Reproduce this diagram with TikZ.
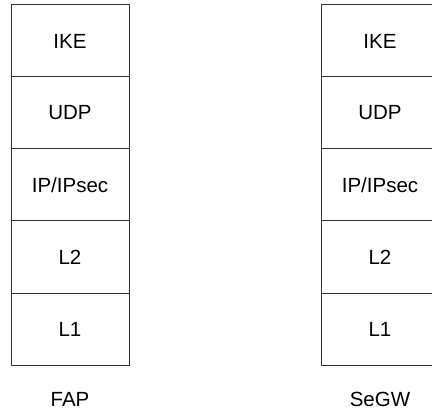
\documentclass[tikz,border=0pt]{standalone}
\usepackage{fontspec}
\setmainfont{Liberation Sans}
\usetikzlibrary{positioning}

\tikzset{
  layer/.style={draw=black!80, line width=1pt, rectangle, minimum width=118pt,
    minimum height=72pt, inner sep=0pt, outer sep=0pt,
    font=\fontsize{20.5}{24}\selectfont},
  stacklabel/.style={font=\fontsize{20.5}{24}\selectfont}
}

\begin{document}
\begin{tikzpicture}[x=1pt, y=-1pt]
    \clip (0,0) rectangle (432,412);
    % FAP protocol stack
    \node[layer] (fike) at (70,41) {IKE};
    \node[layer, below=0pt of fike] (fudp) {UDP};
    \node[layer, below=0pt of fudp] (fip) {IP/IPsec};
    \node[layer, below=0pt of fip] (fltwo) {L2};
    \node[layer, below=0pt of fltwo] (flone) {L1};
    \node[stacklabel] (fap) at (70,399) {FAP};
    % SeGW protocol stack
    \node[layer] (sike) at (380,41) {IKE};
    \node[layer, below=0pt of sike] (sudp) {UDP};
    \node[layer, below=0pt of sudp] (sip) {IP/IPsec};
    \node[layer, below=0pt of sip] (sltwo) {L2};
    \node[layer, below=0pt of sltwo] (slone) {L1};
    \node[stacklabel] (segw) at (380,399) {SeGW};
  \end{tikzpicture}
\end{document}
